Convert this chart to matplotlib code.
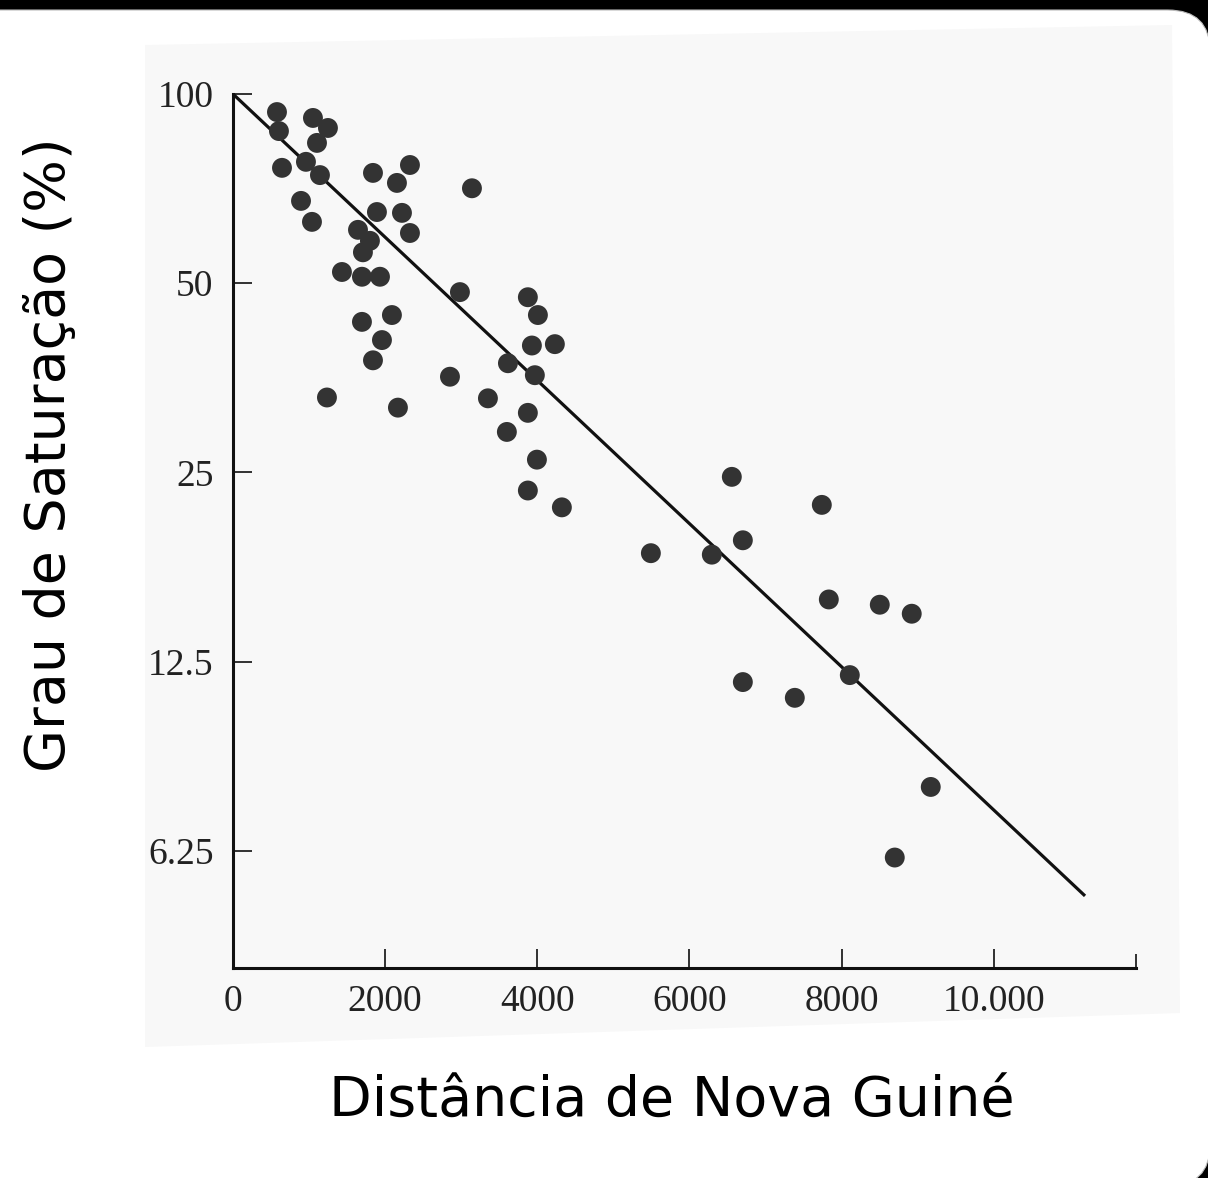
import matplotlib.pyplot as plt
from matplotlib.patches import FancyBboxPatch, Polygon
from matplotlib.ticker import NullLocator

W, H = 1208, 1178

# distance from New Guinea (km) and saturation (%) per island
distancia = [578, 604, 1051, 1248, 1104, 644, 959, 1143, 894, 1038,
             1840, 2155, 2326, 3141, 1892, 2221, 2326, 1643, 1800, 1708,
             1432, 1695, 1932, 2983, 2089, 1695, 1958, 1840, 1235, 2168,
             2852, 3351, 3876, 4008, 3929, 4231, 3614, 3968, 3876, 3600,
             3995, 3876, 4323, 6557, 7740, 6702, 5493, 6294, 7832, 8502,
             8922, 8108, 6702, 7385, 9172, 8699]
saturacao = [93.6, 87.3, 91.6, 88.3, 83.6, 76.3, 78.0, 74.3, 67.6, 62.6,
             74.9, 72.2, 77.1, 70.8, 64.9, 64.7, 60.1, 60.8, 58.4, 56.0,
             52.1, 51.2, 51.2, 48.4, 44.5, 43.4, 40.6, 37.7, 32.9, 31.7,
             35.5, 32.8, 47.5, 44.5, 39.8, 40.0, 37.3, 35.7, 31.1, 29.0,
             26.2, 23.4, 22.0, 24.6, 22.2, 19.5, 18.6, 18.5, 15.7, 15.4,
             14.9, 11.9, 11.6, 10.95, 7.9, 6.1]

# fitted regression line, end points
reta_x = [0, 11200]
reta_y = [100, 5.3]

y_ticks = [100, 50, 25, 12.5, 6.25]
y_labels = ['100', '50', '25', '12.5', '6.25']
x_ticks = [0, 2000, 4000, 6000, 8000, 10000]
x_labels = ['0', '2000', '4000', '6000', '8000', '10.000']


def fx(px):
    return px / W


def fy(py):
    return 1 - py / H


fig = plt.figure(figsize=(W / 100, H / 100), dpi=100, facecolor='black')

# white page with rounded corners over black frame
page = FancyBboxPatch((fx(-60), fy(1186)), fx(1270), (1186 - 10) / H,
                      boxstyle='round,pad=0,rounding_size=0.035',
                      transform=fig.transFigure, facecolor='white',
                      edgecolor='#bbbbbb', linewidth=0.8, zorder=-3)
fig.patches.append(page)

# slightly grey, slightly tilted scanned sheet
scan = Polygon([(fx(145), fy(45)), (fx(1172), fy(25)),
                (fx(1180), fy(1013)), (fx(145), fy(1047))],
               closed=True, transform=fig.transFigure,
               facecolor='#f8f8f8', edgecolor='none', zorder=-2)
fig.patches.append(scan)

ax = fig.add_axes([fx(233), fy(968), (1136 - 233) / W, (968 - 94) / H])
ax.set_facecolor('none')
ax.set_yscale('log', base=2)
ax.set_xlim(0, 11870)
ax.set_ylim(4.07, 100)

ax.plot(reta_x, reta_y, color='#111111', lw=2.3, solid_capstyle='butt',
        zorder=2)
ax.scatter(distancia, saturacao, s=205, color='#333333', edgecolors='none',
           zorder=3, clip_on=False)

for side in ['top', 'right']:
    ax.spines[side].set_visible(False)
for side in ['left', 'bottom']:
    ax.spines[side].set_linewidth(2.2)
    ax.spines[side].set_color('#111111')

ax.yaxis.set_minor_locator(NullLocator())
ax.set_yticks(y_ticks)
ax.set_yticklabels(y_labels)
ax.set_xticks(x_ticks)
ax.set_xticklabels(x_labels)
ax.set_xticks([11870], minor=True)

ax.tick_params(axis='both', which='major', direction='in', length=14,
               width=1.3, color='#222222', labelcolor='#222222',
               labelsize=27)
ax.tick_params(axis='y', pad=14)
ax.tick_params(axis='x', pad=12)
ax.tick_params(axis='x', which='minor', direction='in', length=10,
               width=1.3, color='#222222')
for lab in ax.get_xticklabels() + ax.get_yticklabels():
    lab.set_family('Liberation Serif')

fig.text(fx(672), fy(1102), 'Distância de Nova Guiné', ha='center',
         va='center', fontsize=40, family='DejaVu Sans', color='black')
fig.text(fx(50), fy(455), 'Grau de Saturação (%)', ha='center',
         va='center', rotation=90, fontsize=40, family='DejaVu Sans',
         color='black')

fig.savefig('out.png', dpi=100, facecolor=fig.get_facecolor())
